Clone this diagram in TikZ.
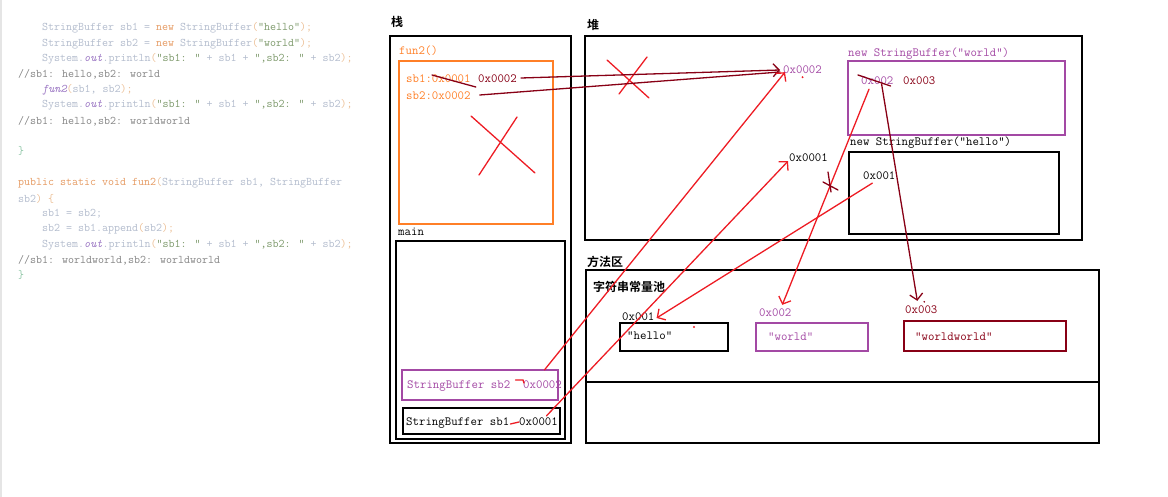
\documentclass[tikz,border=0pt]{standalone}
\usepackage{fontspec}
\newfontfamily\cjk{Noto Sans CJK SC}[BoldFont={Noto Sans CJK SC Bold}]
\usetikzlibrary{arrows.meta,calc}
\definecolor{pred}{HTML}{ED1C24}
\definecolor{pdark}{HTML}{880015}
\definecolor{ppur}{HTML}{A349A4}
\definecolor{pora}{HTML}{FF7F27}
\definecolor{kgray}{HTML}{B3BCCD}
\definecolor{kora}{HTML}{E59A62}
\definecolor{kpar}{HTML}{EBBE94}
\definecolor{kgrn}{HTML}{7E9A6C}
\definecolor{kpur}{HTML}{9C78C4}
\definecolor{kcom}{HTML}{858585}
\definecolor{kbrace}{HTML}{8CC4A4}
\newcommand\kG[1]{{\color{kgray}\relax#1}}
\newcommand\kO[1]{{\color{kora}\relax#1}}
\newcommand\kP[1]{{\color{kpar}\relax#1}}
\newcommand\kS[1]{{\color{kgrn}\relax#1}}
\newcommand\kI[1]{{\color{kpur}\itshape #1}}
\newcommand\kC[1]{{\color{kcom}\relax#1}}
\begin{document}
\begin{tikzpicture}[x=1pt,y=-1pt,
  code/.style={inner sep=0pt,anchor=west,font=\fontsize{11.65}{13}\ttfamily},
  txt/.style={inner sep=0pt,anchor=west,font=\fontsize{12.5}{14}\ttfamily},
  cn/.style={inner sep=0pt,anchor=west,font=\fontsize{12}{14}\cjk\bfseries},
  box/.style={draw,line width=1.8pt,inner sep=0pt,anchor=north west},
  hand/.style={line width=1.3pt,line cap=round},
  arr/.style={hand,-{Straight Barb[length=6pt,width=13pt,line width=1.3pt]}}]
\useasboundingbox (0,0) rectangle (1168,497);
\draw[black!10,line width=1.5pt] (1,0) -- (1,497);

% ---------- code ----------
\node[code] (c1) at (42,28) {\kG{StringBuffer sb1 = }\kO{new}\kG{ StringBuffer}\kP{(}\kS{"hello"}\kP{);}};
\node[code] (c2) at (42,44) {\kG{StringBuffer sb2 = }\kO{new}\kG{ StringBuffer}\kP{(}\kS{"world"}\kP{);}};
\node[code] (c3) at (42,59) {\kG{System.}\kI{out}\kG{.println}\kP{(}\kS{"sb1: "}\kG{ + sb1 + }\kS{",sb2: "}\kG{ + sb2}\kP{);}};
\node[code] (c4) at (18,74) {\kC{//sb1: hello,sb2: world}};
\node[code] (c5) at (42,90) {\kI{fun2}\kP{(}\kG{sb1, sb2}\kP{);}};
\node[code] (c6) at (42,105) {\kG{System.}\kI{out}\kG{.println}\kP{(}\kS{"sb1: "}\kG{ + sb1 + }\kS{",sb2: "}\kG{ + sb2}\kP{);}};
\node[code] (c7) at (18,121) {\kC{//sb1: hello,sb2: worldworld}};
\node[code] (c8) at (18,151) {\kG{\color{kbrace}\}}};
\node[code] (c9) at (18,183) {\kO{public static void fun2}\kP{(}\kG{StringBuffer sb1, StringBuffer}};
\node[code] (c10) at (18,199) {\kG{sb2}\kP{)}\kP{ \{}};
\node[code] (c11) at (42,214) {\kG{sb1 = sb2;}};
\node[code] (c12) at (42,229) {\kG{sb2 = sb1.append}\kP{(}\kG{sb2}\kP{);}};
\node[code] (c13) at (42,245) {\kG{System.}\kI{out}\kG{.println}\kP{(}\kS{"sb1: "}\kG{ + sb1 + }\kS{",sb2: "}\kG{ + sb2}\kP{);}};
\node[code] (c14) at (18,260) {\kC{//sb1: worldworld,sb2: worldworld}};
\node[code] (c15) at (18,275) {\kG{\color{kbrace}\}}};

% ---------- stack ----------
\node[cn] (lstack) at (391,22) {栈};
\node[box,minimum width=181pt,minimum height=407pt] (stack) at (389,35) {};
\node[txt,text=pora] (lfun) at (399,51) {fun2()};
\node[box,draw=pora,line width=1.6pt,minimum width=154pt,minimum height=163pt] (fun) at (398,60) {};
\node[txt,text=pora] (fsb1) at (406,79) {sb1:0x0001};
\node[txt,text=pdark] (fnew) at (478,79) {0x0002};
\node[txt,text=pora] (fsb2) at (406,96) {sb2:0x0002};
\node[txt] (lmain) at (398,232) {main};
\node[box,minimum width=169pt,minimum height=198pt] (main) at (395,240) {};
\node[box,draw=ppur,minimum width=156pt,minimum height=30pt] (msb2) at (401,369) {};
\node[txt,text=ppur] (msb2t) at (407,386) {StringBuffer sb2};
\node[txt,text=ppur] (msb2a) at (523,385) {0x0002};
\node[box,minimum width=157pt,minimum height=26pt] (msb1) at (402,407) {};
\node[txt] (msb1t) at (406,423) {StringBuffer sb1};
\node[txt] (msb1a) at (519,422) {0x0001};

% ---------- heap ----------
\node[cn] (lheap) at (587,25) {堆};
\node[box,minimum width=497pt,minimum height=204pt] (heap) at (584,35) {};
\node[txt,text=ppur] (h2) at (783,70) {0x0002};
\node[txt] (h1) at (789,158) {0x0001};
\node[txt,text=ppur] (lwo) at (848,54) {new StringBuffer("world")};
\node[box,draw=ppur,minimum width=217pt,minimum height=74pt] (wobj) at (847,60) {};
\node[txt,text=ppur] (wo) at (861,81) {0x002};
\node[txt,text=pdark] (wo3) at (903,81) {0x003};
\node[txt] (lho) at (850,143) {new StringBuffer("hello")};
\node[box,minimum width=210pt,minimum height=82pt] (hobj) at (848,151) {};
\node[txt] (ho) at (863,176) {0x001};

% ---------- method area ----------
\node[cn] (lmeth) at (587,262) {方法区};
\node[box,minimum width=513pt,minimum height=173pt] (meth) at (585,269) {};
\draw[line width=1.8pt] (meth.west |- 0,382) -- (meth.east |- 0,382);
\node[cn] (lpool) at (593,287) {字符串常量池};
\node[txt] (p1) at (622,317) {0x001};
\node[box,minimum width=108pt,minimum height=28pt] (s1) at (619,322) {};
\node[txt] (s1t) at (627,336) {"hello"};
\node[txt,text=ppur] (p2) at (759,313) {0x002};
\node[box,draw=ppur,minimum width=112pt,minimum height=28pt] (s2) at (755,322) {};
\node[txt,text=ppur] (s2t) at (768,337) {"world"};
\node[txt,text=pdark] (p3) at (905,310) {0x003};
\node[box,draw=pdark,minimum width=162pt,minimum height=30pt] (s3) at (903,320) {};
\node[txt,text=pdark] (s3t) at (915,337) {"worldworld"};

% ---------- marks ----------
\draw[hand,pdark] ($(fsb1.west)+(26,-4)$) -- ($(fsb1.east)+(5,8)$);
\draw[hand,pdark] ($(wo.west)+(-3,-6)$) -- ($(wo.east)+(-3,5)$);
\draw[hand,pred] (471,116) -- (535,173) (517,117) -- (479,175);
\draw[hand,pred] (607,60) -- (649,98) (647,57) -- (619,94);
\draw[hand,pred] ($(msb2t.east)+(5,-6)$) -- ($(msb2a.west)+(0,-5)$) -- ($(msb2a.west)+(1,-2)$);
\draw[hand,pred] ($(msb1t.east)+(1,1)$) -- (msb1a.west);
\fill[pred] ($(h2.south)+(0,3)$) circle (1.1pt);
\fill[pred] (694,327) circle (1.1pt);
\fill[pdark] ($(p3.north)+(3,-4)$) circle (0.9pt);

% ---------- connectors ----------
\coordinate (fnewe) at ($(fnew.east)+(4,-1)$);
\coordinate (fsb2e) at ($(fsb2.east)+(9,-1)$);
\draw[arr,pdark] (fnewe) -- ($(h2.west)+(-3,0)$);
\draw[hand,pdark] (fsb2e) -- ($(h2.west)+(-3,2)$);
\coordinate (ms2s) at ($(msb2a.north)+(2,-11)$);
\coordinate (ms1s) at ($(msb1a.north)+(8,-2)$);
\draw[arr,pred] (ms2s) -- ($(h2.south west)+(2,-2)$);
\draw[arr,pred] (ms1s) -- ($(h1.south west)+(-1,-1)$);
\draw[arr,pred] ($(ho.south)+(-7,3)$) -- ($(p1.east)+(2,1)$);
\draw[arr,pred] ($(wo.south west)+(8,4)$) -- ($(p2.north)+(7,-4)$);
\draw[arr,pdark] ($(wo.east)+(-12,3)$) -- ($(p3.north)+(-4,-5)$);
\draw[hand,pdark] (823,182) -- (838,190) (828,172) -- (831,192);
\end{tikzpicture}
\end{document}
